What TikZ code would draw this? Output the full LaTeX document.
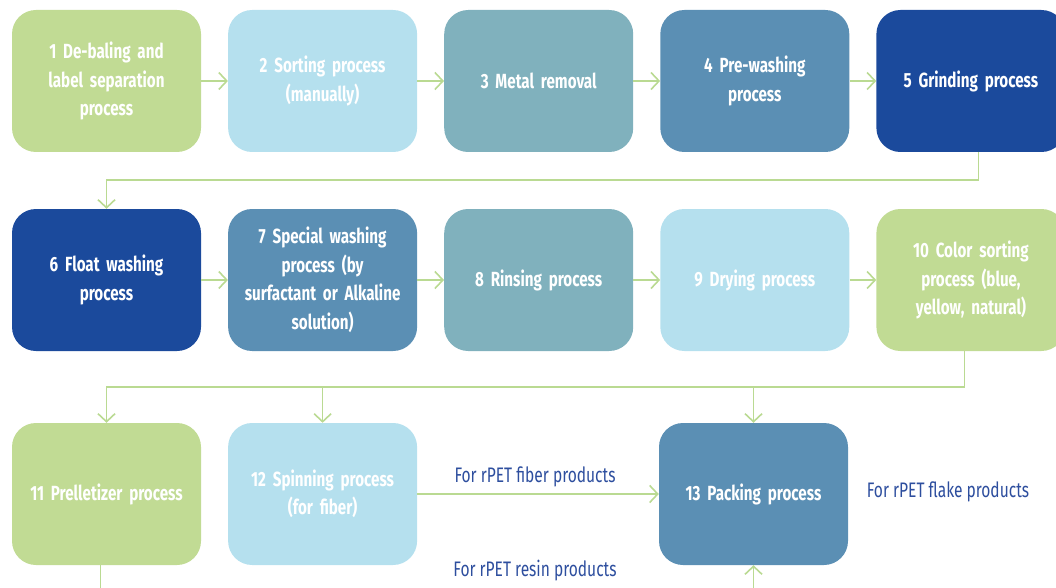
\documentclass[tikz,border=0pt]{standalone}
\usepackage{fontspec}
\setmainfont{Fira Sans}[FakeStretch=0.74]
\usetikzlibrary{positioning,arrows.meta}
\definecolor{pgreen}{HTML}{C1DB94}
\definecolor{plight}{HTML}{B5E0EE}
\definecolor{pteal}{HTML}{80B1BD}
\definecolor{psteel}{HTML}{5B8FB4}
\definecolor{pdark}{HTML}{1B4A9C}
\definecolor{linegreen}{HTML}{BADA92}
\definecolor{notetext}{HTML}{2D4E9E}
\tikzset{
	proc/.style={rounded corners=24pt, minimum width=189pt, minimum height=142pt,
		text width=185pt, align=center, inner sep=0pt, text=white,
		font=\fontsize{20.5}{28.5}\selectfont\bfseries},
	flow/.style={draw=linegreen, line width=1.6pt, -{Straight Barb[length=8pt,width=17pt]}},
	plain/.style={draw=linegreen, line width=1.6pt},
	note/.style={text=notetext, font=\fontsize{21}{24}\selectfont},
}
\begin{document}
\begin{tikzpicture}[x=1pt,y=1pt]
	\useasboundingbox (0,0) rectangle (1056,-588);
	\clip (0,0) rectangle (1056,-588);
	% first row
	\node[proc, fill=pgreen] (p1) at (106.5,-81) {1 De-baling and\\label separation\\process};
	\node[proc, fill=plight, right=26.7pt of p1] (p2) {2 Sorting process\\(manually)};
	\node[proc, fill=pteal, right=26.7pt of p2] (p3) {3 Metal removal};
	\node[proc, fill=psteel, right=26.7pt of p3] (p4) {4 Pre-washing\\process};
	\node[proc, fill=pdark, right=26.7pt of p4] (p5) {5 Grinding process};
	% second row
	\node[proc, fill=pdark] (p6) at (106.5,-280) {6 Float washing\\process};
	\node[proc, fill=psteel, right=26.7pt of p6] (p7) {7 Special washing\\process (by\\surfactant or Alkaline\\solution)};
	\node[proc, fill=pteal, right=26.7pt of p7] (p8) {8 Rinsing process};
	\node[proc, fill=plight, right=26.7pt of p8] (p9) {9 Drying process};
	\node[proc, fill=pgreen, right=26.7pt of p9] (p10) {10 Color sorting\\process (blue,\\yellow, natural)};
	% third row
	\node[proc, fill=pgreen] (p11) at (106.5,-494) {11 Prelletizer process};
	\node[proc, fill=plight, right=26.7pt of p11] (p12) {12 Spinning process\\(for fiber)};
	\node[proc, fill=psteel] (p13) at (753.5,-494) {13 Packing process};
	% notes
	\node[note] (n1) at (535,-477) {For rPET fiber products};
	\node[note] (n2) at (535,-571) {For rPET resin products};
	\node[note] (n3) at (948,-492) {For rPET flake products};
	% connectors
	\draw[flow] (p1) -- (p2);
	\draw[flow] (p2) -- (p3);
	\draw[flow] (p3) -- (p4);
	\draw[flow] (p4) -- (p5);
	\coordinate (t5) at ([xshift=7.5pt]p5.south);
	\draw[flow] (t5) |- ([yshift=29pt]p6.north) -- (p6.north);
	\draw[flow] (p6) -- (p7);
	\draw[flow] (p7) -- (p8);
	\draw[flow] (p8) -- (p9);
	\draw[flow] (p9) -- (p10);
	\coordinate (t10) at ([xshift=-6.5pt]p10.south);
	\draw[flow] (t10) |- ([yshift=36pt]p11.north) -- (p11.north);
	\draw[flow] ([yshift=36pt]p12.north) -- (p12.north);
	\draw[flow] ([yshift=36pt]p13.north) -- (p13.north);
	\draw[flow] (p12) -- (p13);
	\coordinate (b11) at ([xshift=-6pt,yshift=-40pt]p11.south);
	\draw[plain] ([xshift=-6pt]p11.south) -- (b11);
	\coordinate (b13) at ([yshift=-40pt]p13.south);
	\draw[flow] (b13) -- (p13.south);
\end{tikzpicture}
\end{document}
